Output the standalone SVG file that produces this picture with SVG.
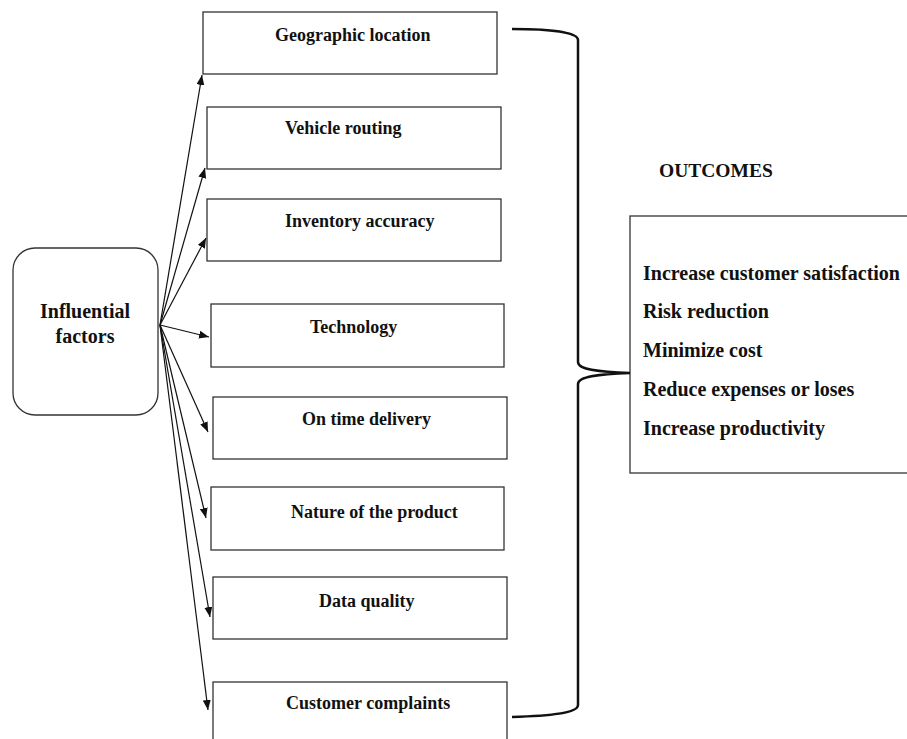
<svg xmlns="http://www.w3.org/2000/svg" width="907" height="739" viewBox="0 0 907 739">
<style>
.box{fill:#fff;stroke:#333;stroke-width:1.3}
.lbl{font-family:"Liberation Serif","Times New Roman",serif;font-weight:bold;font-size:18px;fill:#111}
.out{font-family:"Liberation Serif","Times New Roman",serif;font-weight:bold;font-size:20px;fill:#111}
.arr{stroke:#111;stroke-width:1.2;fill:none;marker-end:url(#ah)}
</style>
<defs>
<marker id="ah" viewBox="0 0 10 8" refX="10" refY="4" markerWidth="10" markerHeight="8" markerUnits="userSpaceOnUse" orient="auto">
<path d="M0,0 L10,4 L0,8 Z" fill="#111"/>
</marker>
</defs>
<rect width="907" height="739" fill="#fff"/>
<g id="influential">
<rect x="13" y="248" width="145" height="167" rx="22" ry="22" class="box"/>
<text class="out" x="85" y="318" text-anchor="middle">Influential</text>
<text class="out" x="85" y="343" text-anchor="middle">factors</text>
</g>
<g id="geographic"><rect x="203" y="12" width="294" height="62" class="box"/><text class="lbl" x="275" y="41">Geographic location</text></g>
<g id="vehicle"><rect x="207" y="107" width="294" height="62" class="box"/><text class="lbl" x="285" y="134">Vehicle routing</text></g>
<g id="inventory"><rect x="207" y="199" width="294" height="62" class="box"/><text class="lbl" x="285" y="227">Inventory accuracy</text></g>
<g id="technology"><rect x="211" y="304" width="293" height="63" class="box"/><text class="lbl" x="310" y="333">Technology</text></g>
<g id="ontime"><rect x="213" y="397" width="294" height="62" class="box"/><text class="lbl" x="302" y="425">On time delivery</text></g>
<g id="nature"><rect x="211" y="487" width="293" height="63" class="box"/><text class="lbl" x="291" y="518">Nature of the product</text></g>
<g id="dataquality"><rect x="213" y="577" width="294" height="62" class="box"/><text class="lbl" x="319" y="607">Data quality</text></g>
<g id="complaints"><rect x="213" y="682" width="294" height="70" class="box"/><text class="lbl" x="286" y="709">Customer complaints</text></g>
<g id="outcomes">
<text class="out" x="659" y="177" style="font-size:19.5px">OUTCOMES</text>
<rect x="630" y="216" width="290" height="257" class="box"/>
<text class="out" x="643" y="280">Increase customer satisfaction</text>
<text class="out" x="643" y="318">Risk reduction</text>
<text class="out" x="643" y="357">Minimize cost</text>
<text class="out" x="643" y="396">Reduce expenses or loses</text>
<text class="out" x="643" y="435">Increase productivity</text>
</g>
<g id="connectors">
<line class="arr" x1="160" y1="325" x2="202" y2="75"/>
<line class="arr" x1="160" y1="325" x2="205" y2="168"/>
<line class="arr" x1="160" y1="325" x2="206" y2="238"/>
<line class="arr" x1="160" y1="325" x2="209" y2="337"/>
<line class="arr" x1="160" y1="325" x2="208" y2="432"/>
<line class="arr" x1="160" y1="325" x2="206" y2="518"/>
<line class="arr" x1="160" y1="325" x2="210" y2="617"/>
<line class="arr" x1="160" y1="325" x2="208" y2="710"/>
<path d="M512,29 C550,29 578,32 578,40 L578,362 C578,370 600,372 630,373 C600,374 578,376 578,384 L578,705 C578,713 550,716 512,717" fill="none" stroke="#111" stroke-width="2.5"/>
</g>
</svg>
